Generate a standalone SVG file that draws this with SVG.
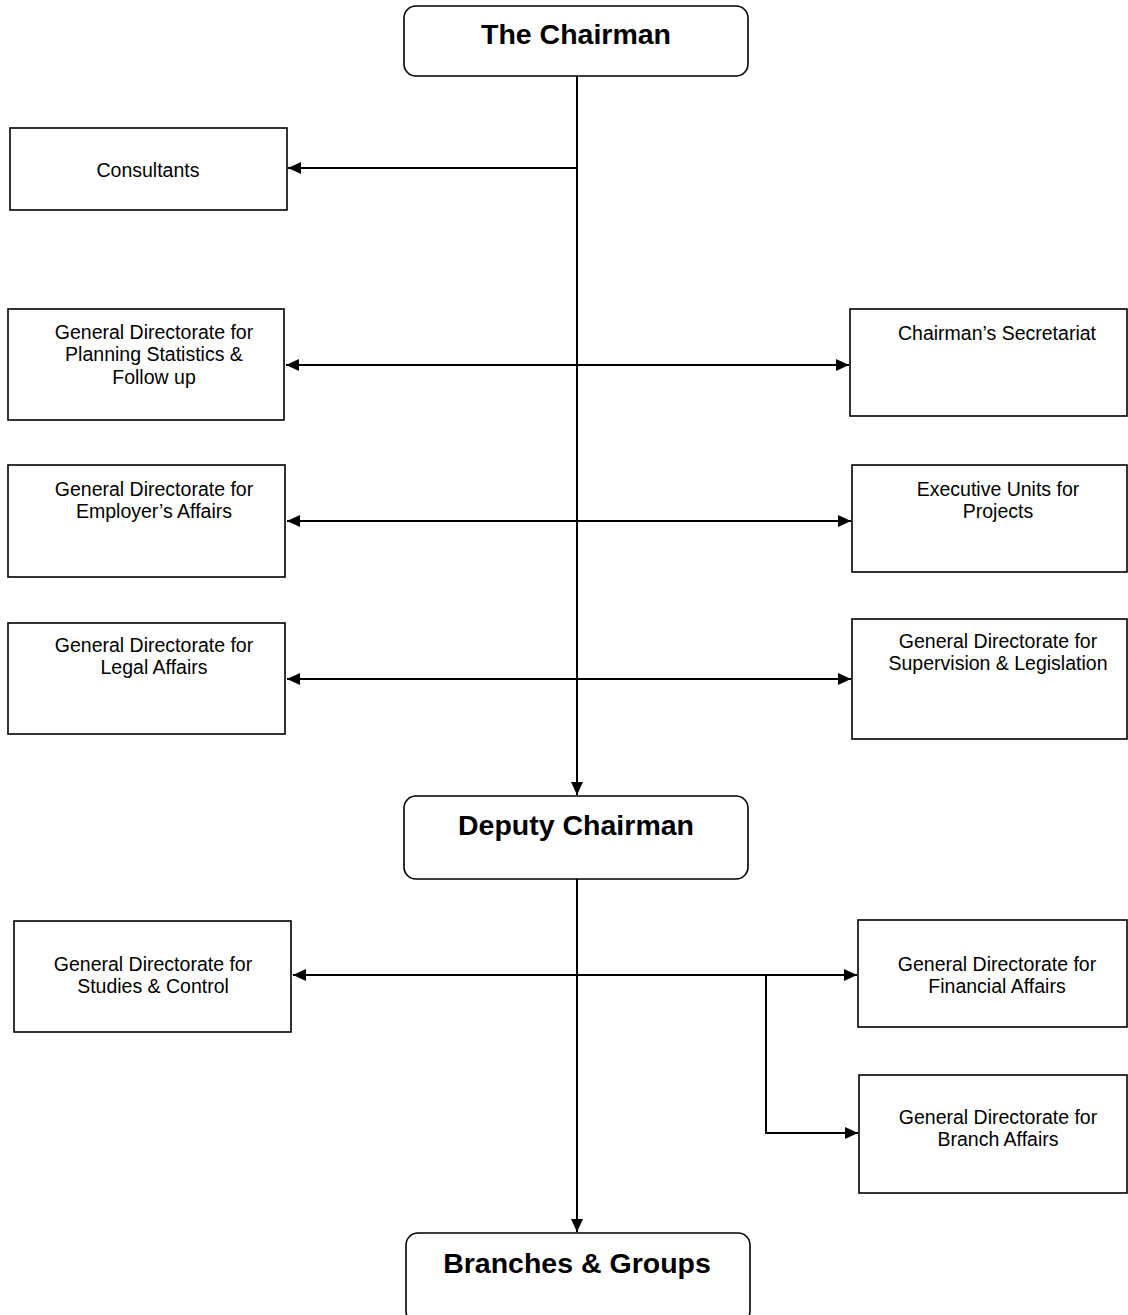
<svg xmlns="http://www.w3.org/2000/svg" width="1128" height="1315" viewBox="0 0 1128 1315">
  <defs>
    <style>
      .box { fill: #ffffff; stroke: #000000; stroke-width: 1.6; }
      .title { font-family: "Liberation Sans", Arial, sans-serif; font-weight: bold; font-size: 28.5px; fill: #000000; text-anchor: middle; }
      .label { font-family: "Liberation Sans", Arial, sans-serif; font-size: 19.5px; fill: #000000; text-anchor: middle; }
      .conn { fill: none; stroke: #000000; stroke-width: 2; }
    </style>
    <marker id="arrow-end" markerUnits="userSpaceOnUse" markerWidth="14" markerHeight="12" refX="13" refY="6" orient="auto">
      <path d="M0,0 L13,6 L0,12 Z" fill="#000000"/>
    </marker>
    <marker id="arrow-start" markerUnits="userSpaceOnUse" markerWidth="14" markerHeight="12" refX="0" refY="6" orient="auto">
      <path d="M13,0 L0,6 L13,12 Z" fill="#000000"/>
    </marker>
  </defs>

  <rect width="1128" height="1315" fill="#ffffff"/>

  <!-- connectors -->
  <g id="connectors">
    <line class="conn" x1="577" y1="76" x2="577" y2="795" marker-end="url(#arrow-end)"/>
    <line class="conn" x1="577" y1="168" x2="288" y2="168" marker-end="url(#arrow-end)"/>
    <line class="conn" x1="286" y1="365" x2="849" y2="365" marker-start="url(#arrow-start)" marker-end="url(#arrow-end)"/>
    <line class="conn" x1="287" y1="521" x2="851" y2="521" marker-start="url(#arrow-start)" marker-end="url(#arrow-end)"/>
    <line class="conn" x1="287" y1="679" x2="851" y2="679" marker-start="url(#arrow-start)" marker-end="url(#arrow-end)"/>
    <line class="conn" x1="577" y1="879" x2="577" y2="1232" marker-end="url(#arrow-end)"/>
    <line class="conn" x1="293" y1="975" x2="857" y2="975" marker-start="url(#arrow-start)" marker-end="url(#arrow-end)"/>
    <path class="conn" d="M766,975 V1133 H858" marker-end="url(#arrow-end)"/>
  </g>

  <!-- top level -->
  <g id="chairman">
    <rect class="box" x="404" y="6" width="344" height="70" rx="12" ry="12"/>
    <text class="title" x="576" y="44">The Chairman</text>
  </g>

  <g id="consultants">
    <rect class="box" x="10" y="128" width="277" height="82"/>
    <text class="label" x="148" y="177">Consultants</text>
  </g>

  <g id="planning">
    <rect class="box" x="8" y="309" width="276" height="111"/>
    <text class="label" x="154" y="339">General Directorate for</text>
    <text class="label" x="154" y="361">Planning Statistics &amp;</text>
    <text class="label" x="154" y="384">Follow up</text>
  </g>

  <g id="secretariat">
    <rect class="box" x="850" y="309" width="277" height="107"/>
    <text class="label" x="997" y="340">Chairman’s Secretariat</text>
  </g>

  <g id="employers-affairs">
    <rect class="box" x="8" y="465" width="277" height="112"/>
    <text class="label" x="154" y="496">General Directorate for</text>
    <text class="label" x="154" y="518">Employer’s Affairs</text>
  </g>

  <g id="executive-units">
    <rect class="box" x="852" y="465" width="275" height="107"/>
    <text class="label" x="998" y="496">Executive Units for</text>
    <text class="label" x="998" y="518">Projects</text>
  </g>

  <g id="legal-affairs">
    <rect class="box" x="8" y="623" width="277" height="111"/>
    <text class="label" x="154" y="652">General Directorate for</text>
    <text class="label" x="154" y="674">Legal Affairs</text>
  </g>

  <g id="supervision">
    <rect class="box" x="852" y="619" width="275" height="120"/>
    <text class="label" x="998" y="648">General Directorate for</text>
    <text class="label" x="998" y="670">Supervision &amp; Legislation</text>
  </g>

  <!-- deputy level -->
  <g id="deputy-chairman">
    <rect class="box" x="404" y="796" width="344" height="83" rx="12" ry="12"/>
    <text class="title" x="576" y="835">Deputy Chairman</text>
  </g>

  <g id="studies-control">
    <rect class="box" x="14" y="921" width="277" height="111"/>
    <text class="label" x="153" y="971">General Directorate for</text>
    <text class="label" x="153" y="993">Studies &amp; Control</text>
  </g>

  <g id="financial-affairs">
    <rect class="box" x="858" y="920" width="269" height="107"/>
    <text class="label" x="997" y="971">General Directorate for</text>
    <text class="label" x="997" y="993">Financial Affairs</text>
  </g>

  <g id="branch-affairs">
    <rect class="box" x="859" y="1075" width="268" height="118"/>
    <text class="label" x="998" y="1124">General Directorate for</text>
    <text class="label" x="998" y="1146">Branch Affairs</text>
  </g>

  <g id="branches-groups">
    <rect class="box" x="406" y="1233" width="344" height="90" rx="12" ry="12"/>
    <text class="title" x="577" y="1273">Branches &amp; Groups</text>
  </g>
</svg>
